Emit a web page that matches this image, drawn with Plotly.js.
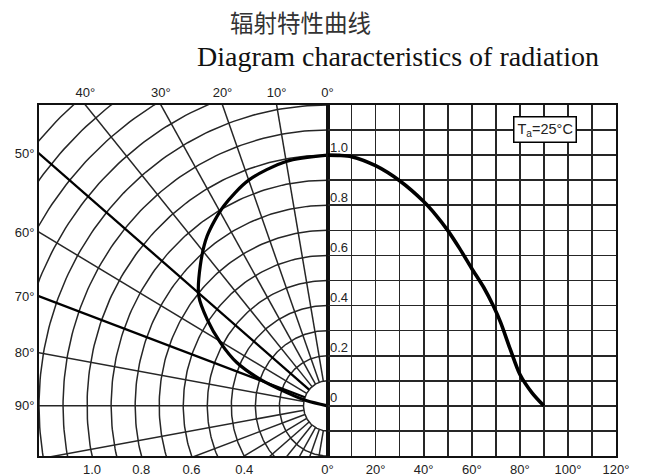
<!DOCTYPE html>
<html>
<head>
<meta charset="utf-8">
<script src="https://cdn.plot.ly/plotly-3.0.1.min.js"></script>
<style>html,body{margin:0;padding:0;background:#fff;}#chart{width:651px;height:476px;}</style>
</head>
<body>
<div id="chart"></div>
<script>
// ---- data ----
// polar half: angle from the axis (deg) and relative intensity
const polarDeg = [0, 10, 20, 28.5, 36.5, 43.5, 50.7, 55.4, 60.4, 65.4, 69.3, 72.6, 76.8, 80];
const polarRel = [1.0, 0.99, 0.958, 0.906, 0.842, 0.769, 0.692, 0.608, 0.513, 0.415, 0.299, 0.177, 0.088, 0];
// cartesian half: angle (deg) and relative intensity
const cartDeg = [0, 5, 10, 20, 30, 40, 45, 50, 55, 60, 65, 69, 72, 76, 80, 85, 90];
const cartRel = [1.0, 0.999, 0.994, 0.958, 0.898, 0.815, 0.762, 0.700, 0.627, 0.548, 0.472, 0.398, 0.333, 0.226, 0.126, 0.053, 0];

// tick labels
const topTickDeg = [40, 30, 20, 10, 0];
const topTickLabels = ['40°', '30°', '20°', '10°', '0°'];
const sideTickDeg = [50, 60, 70, 80, 90];
const sideTickLabels = ['50°', '60°', '70°', '80°', '90°'];
const radialTickValues = [1.0, 0.8, 0.6, 0.4];
const radialTickLabels = ['1.0', '0.8', '0.6', '0.4'];
const degTicks = [0, 20, 40, 60, 80, 100, 120];
const degTickLabels = ['0°', '20°', '40°', '60°', '80°', '100°', '120°'];
const degMinorTicks = [10, 30, 50, 70, 90, 110];
const relTicks = [-0.2, -0.1, 0, 0.1, 0.2, 0.3, 0.4, 0.5, 0.6, 0.7, 0.8, 0.9, 1.0, 1.1, 1.2];
const relLabelValues = [0, 0.2, 0.4, 0.6, 0.8, 1.0];
const relLabelTexts = ['0', '0.2', '0.4', '0.6', '0.8', '1.0'];
const tempLabel = 'T<sub>a</sub>=25°C';

// ---- geometry of the polar half (frame limits in intensity units) ----
const X_MIN = -1.2, Y_MIN = -0.2, Y_MAX = 1.2;
const rad = d => d * Math.PI / 180;
const px = (deg, r) => -r * Math.sin(rad(deg));
const py = (deg, r) => r * Math.cos(rad(deg));

// rings
const ringX = [], ringY = [];
for (let k = 1; k <= 17; k++) {
  const r = k / 10;
  for (let a = 0; a <= 180; a += 1) { ringX.push(px(a, r)); ringY.push(py(a, r)); }
  ringX.push(null); ringY.push(null);
}
// spokes
const spokeX = [], spokeY = [], boldX = [], boldY = [];
for (let a = 10; a <= 180; a += 10) {
  const bold = (a === 50 || a === 70);
  (bold ? boldX : spokeX).push(px(a, 0.1), px(a, 2.0), null);
  (bold ? boldY : spokeY).push(py(a, 0.1), py(a, 2.0), null);
}

const curveX = polarDeg.map((d, i) => px(d, polarRel[i]));
const curveY = polarDeg.map((d, i) => py(d, polarRel[i]));

const lineCol = '#262626';
const gw = 1.7;
const traces = [
  {x: ringX, y: ringY, xaxis: 'x', yaxis: 'y', mode: 'lines', line: {color: lineCol, width: 1.5}, hoverinfo: 'skip'},
  {x: spokeX, y: spokeY, xaxis: 'x', yaxis: 'y', mode: 'lines', line: {color: lineCol, width: 1.5}, hoverinfo: 'skip'},
  {x: boldX, y: boldY, xaxis: 'x', yaxis: 'y', mode: 'lines', line: {color: '#000', width: 2.3}, hoverinfo: 'skip'},
  // invisible anchor so the top angle axis is drawn
  {x: [X_MIN, 0], y: [Y_MIN, Y_MIN], xaxis: 'x3', yaxis: 'y', mode: 'markers', marker: {opacity: 0}, hoverinfo: 'skip'},
  {x: curveX, y: curveY, xaxis: 'x', yaxis: 'y', mode: 'lines', line: {color: '#000', width: 3.2, shape: 'spline', smoothing: 0.8}},
  {x: cartDeg, y: cartRel, xaxis: 'x2', yaxis: 'y2', mode: 'lines', line: {color: '#000', width: 3.6, shape: 'spline', smoothing: 0.8}}
];

const tickFont = {family: 'Liberation Sans, Arial, sans-serif', size: 13, color: '#222'};
const annotations = relLabelValues.map((v, i) => ({
  x: 0, y: v, xref: 'x2', yref: 'y2', text: relLabelTexts[i], showarrow: false,
  xanchor: 'left', yanchor: 'middle', xshift: 0, yshift: 8, font: tickFont
}));
annotations.push({
  x: 90.3, y: 1.104, xref: 'x2', yref: 'y2', text: tempLabel, showarrow: false,
  xanchor: 'center', yanchor: 'middle',
  bgcolor: '#fff', bordercolor: '#000', borderwidth: 1.5, borderpad: 3,
  font: {family: 'Liberation Sans, Arial, sans-serif', size: 14.5, color: '#222'}
});
annotations.push({
  x: 0.454, y: 1.236, xref: 'paper', yref: 'paper', text: '辐射特性曲线', showarrow: false,
  xanchor: 'center', yanchor: 'middle',
  font: {family: 'Noto Sans CJK SC', size: 23.5, color: '#333'}
});
annotations.push({
  x: 0.622, y: 1.137, xref: 'paper', yref: 'paper', text: 'Diagram characteristics of radiation', showarrow: false,
  xanchor: 'center', yanchor: 'middle',
  font: {family: 'Liberation Serif, serif', size: 28, color: '#111'}
});

const frameLine = {showline: true, mirror: true, linecolor: '#111', linewidth: 2, zeroline: false, ticks: ''};
const layout = {
  width: 651, height: 476,
  margin: {l: 39, r: 35, t: 105, b: 20},
  paper_bgcolor: '#fff', plot_bgcolor: '#fff', showlegend: false,
  xaxis: Object.assign({domain: [0, 0.5], range: [X_MIN, 0], anchor: 'y', showgrid: false,
    tickmode: 'array', tickvals: radialTickValues.map(r => -Math.sqrt(r * r - Y_MIN * Y_MIN)), ticktext: radialTickLabels,
    tickfont: tickFont}, frameLine),
  xaxis3: {overlaying: 'x', side: 'top', anchor: 'y', range: [X_MIN, 0], showgrid: false, zeroline: false,
    showline: false, ticks: '', tickmode: 'array', tickvals: topTickDeg.map(d => X_MIN * Math.tan(rad(d))),
    ticktext: topTickLabels, tickfont: tickFont, ticklabelstandoff: 4},
  yaxis: Object.assign({domain: [0, 1], range: [Y_MIN, Y_MAX], anchor: 'x', showgrid: false,
    tickmode: 'array', tickvals: sideTickDeg.map(d => -X_MIN / Math.tan(rad(d))), ticktext: sideTickLabels,
    tickfont: tickFont}, frameLine),
  xaxis2: Object.assign({domain: [0.5, 1], range: [0, 120], anchor: 'y2', showgrid: true,
    gridcolor: lineCol, gridwidth: gw, tickmode: 'array', tickvals: degTicks, ticktext: degTickLabels,
    tickfont: tickFont,
    minor: {tickmode: 'array', tickvals: degMinorTicks, showgrid: true, gridcolor: lineCol, gridwidth: gw, ticks: ''}}, frameLine),
  yaxis2: Object.assign({domain: [0, 1], range: [Y_MIN, Y_MAX], anchor: 'x2', showgrid: true,
    gridcolor: lineCol, gridwidth: gw, tickmode: 'array', tickvals: relTicks, showticklabels: false}, frameLine),
  annotations: annotations
};

Plotly.newPlot('chart', traces, layout, {staticPlot: true, displayModeBar: false});
</script>
</body>
</html>
